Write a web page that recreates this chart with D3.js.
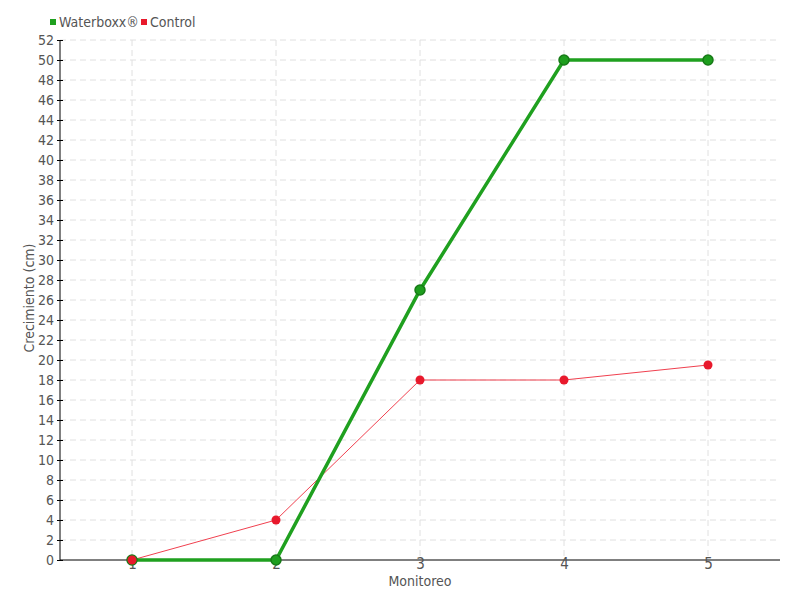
<!DOCTYPE html>
<html lang="es">
<head>
<meta charset="UTF-8">
<title>Crecimiento</title>
<style>
  body { margin: 0; background: #fff; }
  svg text { font-family: "DejaVu Sans Condensed", sans-serif; font-stretch: condensed; fill: #555; }
</style>
</head>
<body>
<script src="https://d3js.org/d3.v7.min.js"></script>
<script>
    // Data
    let monitoreo = ["1", "2", "3", "4", "5"];
    let waterboxx = [0, 0, 27, 50, 50];
    let control = [0, 4, 18, 18, 19.5];
    let yTicks = d3.range(0, 53, 2);

    let svgWidth = 800;
    let svgHeight = 600;
    let margin = { top: 40, right: 20, bottom: 40, left: 60 };
    let chartWidth = svgWidth - margin.left - margin.right;
    let chartHeight = svgHeight - margin.top - margin.bottom;

    let svg = d3.select("body").append("svg")
        .attr("width", svgWidth)
        .attr("height", svgHeight);

    let chartGroup = svg.append("g")
        .attr("transform", `translate(${margin.left}, ${margin.top})`);

    let xScale = d3.scalePoint()
        .domain(monitoreo)
        .range([0, chartWidth])
        .padding(0.5);

    let yScale = d3.scaleLinear()
        .domain([0, 52])
        .range([chartHeight, 0]);

    // grid lines
    chartGroup.selectAll(".hgrid")
        .data(yTicks.filter(d => d > 0))
        .enter().append("line")
        .attr("x1", 0).attr("x2", chartWidth)
        .attr("y1", d => yScale(d)).attr("y2", d => yScale(d))
        .attr("stroke", "#e0e0e0")
        .attr("stroke-dasharray", "6,4");

    chartGroup.selectAll(".vgrid")
        .data(monitoreo)
        .enter().append("line")
        .attr("x1", d => xScale(d)).attr("x2", d => xScale(d))
        .attr("y1", 0).attr("y2", chartHeight)
        .attr("stroke", "#e0e0e0")
        .attr("stroke-dasharray", "6,4");

    // axes
    let yAxis = chartGroup.append("g")
        .call(d3.axisLeft(yScale).tickValues(yTicks).tickSize(3).tickPadding(3));
    yAxis.selectAll(".tick line").attr("x1", 3).attr("stroke", "#000");
    yAxis.select(".domain").attr("stroke", "#000").attr("d", `M0,0V${chartHeight}`);
    yAxis.selectAll("text").style("font-size", "14px").attr("fill", "#555");

    let xAxis = chartGroup.append("g")
        .attr("transform", `translate(0, ${chartHeight})`)
        .call(d3.axisBottom(xScale).tickSize(0).tickPadding(0));
    xAxis.select(".domain").attr("stroke", "#000").attr("d", `M0,0H${chartWidth}`);
    xAxis.selectAll("text").style("font-size", "15px").attr("fill", "#555").attr("dy", "0.6em");

    // axis titles
    chartGroup.append("text")
        .attr("x", chartWidth / 2)
        .attr("y", chartHeight + 26)
        .style("text-anchor", "middle")
        .style("font-size", "14px")
        .text("Monitoreo");

    chartGroup.append("text")
        .attr("transform", "rotate(-90)")
        .attr("x", -chartHeight / 2 + 2)
        .attr("y", -26)
        .style("text-anchor", "middle")
        .style("font-size", "14px")
        .text("Crecimiento (cm)");

    let line = d3.line()
        .x((d, i) => xScale(monitoreo[i]))
        .y(d => yScale(d));

    // Control series
    chartGroup.append("path")
        .datum(control)
        .attr("d", line)
        .attr("fill", "none")
        .attr("stroke", "#f0404f")
        .attr("stroke-width", 1);

    // Waterboxx series
    chartGroup.append("path")
        .datum(waterboxx)
        .attr("d", line)
        .attr("fill", "none")
        .attr("stroke", "#1fa01f")
        .attr("stroke-width", 3.5);

    chartGroup.selectAll(".wpt")
        .data(waterboxx)
        .enter().append("circle")
        .attr("cx", (d, i) => xScale(monitoreo[i]))
        .attr("cy", d => yScale(d))
        .attr("r", 5)
        .attr("fill", "#1e9e1e")
        .attr("stroke", "#177a17")
        .attr("stroke-width", 1.5);

    chartGroup.selectAll(".cpt")
        .data(control)
        .enter().append("circle")
        .attr("cx", (d, i) => xScale(monitoreo[i]))
        .attr("cy", d => yScale(d))
        .attr("r", 4.5)
        .attr("fill", "#e8192c");

    // legend
    let legend = svg.append("g").attr("transform", "translate(50, 22)");
    let items = [
        { name: "Waterboxx®", color: "#1fa01f", x: 0 },
        { name: "Control", color: "#e8192c", x: 91 }
    ];
    items.forEach(it => {
        legend.append("rect")
            .attr("x", it.x).attr("y", -3)
            .attr("width", 6).attr("height", 6)
            .attr("fill", it.color);
        legend.append("text")
            .attr("x", it.x + 9).attr("y", 5)
            .style("font-size", "14px")
            .text(it.name);
    });
</script>
</body>
</html>
